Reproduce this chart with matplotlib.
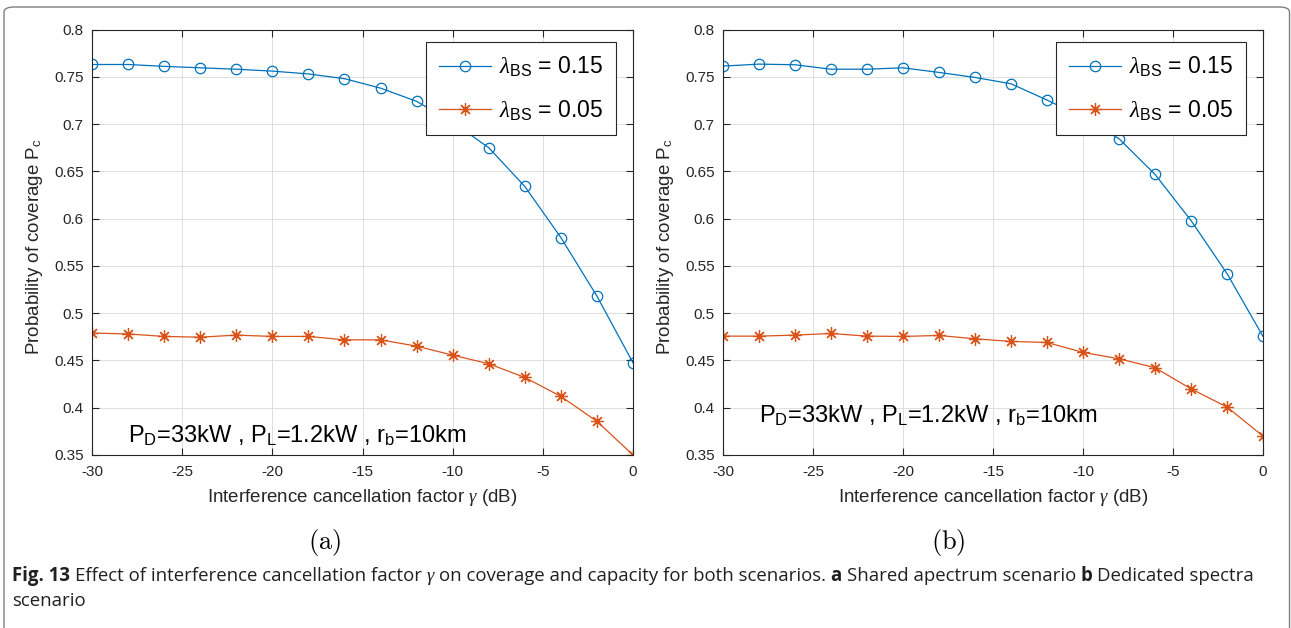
import matplotlib
matplotlib.use("Agg")
import matplotlib.pyplot as plt
from matplotlib.patches import FancyBboxPatch

# ---- data ----
gamma_db = [-30, -28, -26, -24, -22, -20, -18, -16, -14, -12, -10, -8, -6, -4, -2, 0]

# (a) shared spectrum
pc_a_015 = [0.763, 0.763, 0.761, 0.7595, 0.758, 0.756, 0.753, 0.748, 0.738, 0.724,
            0.702, 0.675, 0.634, 0.580, 0.518, 0.4475]
pc_a_005 = [0.479, 0.478, 0.4754, 0.4746, 0.4768, 0.4754, 0.4754, 0.4718, 0.4718, 0.4651,
            0.4556, 0.4465, 0.432, 0.412, 0.3856, 0.350]

# (b) dedicated spectra
pc_b_015 = [0.7613, 0.7634, 0.7627, 0.758, 0.758, 0.7595, 0.7546, 0.7493, 0.7426, 0.7254,
            0.707, 0.6845, 0.6468, 0.598, 0.5419, 0.4754]
pc_b_005 = [0.4757, 0.4757, 0.4768, 0.4785, 0.4757, 0.4754, 0.4764, 0.4729, 0.4701, 0.469,
            0.4585, 0.4518, 0.4423, 0.420, 0.4007, 0.370]

xtick_vals = [-30, -25, -20, -15, -10, -5, 0]
xtick_labels = ['-30', '-25', '-20', '-15', '-10', '-5', '0']
ytick_vals = [0.35, 0.4, 0.45, 0.5, 0.55, 0.6, 0.65, 0.7, 0.75, 0.8]
ytick_labels = ['0.35', '0.4', '0.45', '0.5', '0.55', '0.6', '0.65', '0.7', '0.75', '0.8']

series_labels = [r'$\lambda_{\mathrm{BS}}$ = 0.15', r'$\lambda_{\mathrm{BS}}$ = 0.05']
panel_labels = [r'$\mathrm{(a)}$', r'$\mathrm{(b)}$']
note_text = r'P$_{\mathrm{D}}$=33kW , P$_{\mathrm{L}}$=1.2kW , r$_{\mathrm{b}}$=10km'
note_y = [0.3635, 0.384]
xlabel = r'Interference cancellation factor $\gamma$ (dB)'
ylabel = r'Probability of coverage P$_{\mathrm{c}}$'

caption_line1 = [("Fig. 13", "bold", "normal"),
                 ("Effect of interference cancellation factor", "normal", "normal"),
                 ("\u03b3", "normal", "italic"),
                 ("on coverage and capacity for both scenarios.", "normal", "normal"),
                 ("a", "bold", "normal"),
                 ("Shared apectrum scenario", "normal", "normal"),
                 ("b", "bold", "normal"),
                 ("Dedicated spectra", "normal", "normal")]
caption_line2 = "scenario"

# ---- style ----
plt.rcParams['font.family'] = ['Liberation Sans', 'DejaVu Sans']
plt.rcParams['mathtext.fontset'] = 'custom'
plt.rcParams['mathtext.rm'] = 'Liberation Sans'
plt.rcParams['mathtext.it'] = 'Liberation Serif:italic'
plt.rcParams['mathtext.bf'] = 'Liberation Sans:bold'
plt.rcParams['axes.unicode_minus'] = False

BLUE = '#0072BD'
ORANGE = '#D95319'
DARK = '#262626'
W, H = 1291, 628

fig = plt.figure(figsize=(W / 100, H / 100), dpi=100)

# outer rounded frame (bottom edge runs off the picture)
frame = FancyBboxPatch((4 / W, -30 / H), 1285.5 / W, (H - 7 + 30) / H,
                       boxstyle="round,pad=0,rounding_size=0.008",
                       transform=fig.transFigure, fill=False,
                       edgecolor='#7f7f7f', linewidth=1.0, clip_on=False)
fig.add_artist(frame)

panels = [
    (92, 633, pc_a_015, pc_a_005, note_y[0], 325),
    (723, 1263, pc_b_015, pc_b_005, note_y[1], 948),
]

for i, (x0, x1, s015, s005, ny, lab_x) in enumerate(panels):
    ax = fig.add_axes([x0 / W, 1 - 455 / H, (x1 - x0) / W, (455 - 29.5) / H])
    ax.plot(gamma_db, s015, color=BLUE, lw=0.9, marker='o', ms=7.5,
            mfc='none', mec=BLUE, mew=0.9, label=series_labels[0])
    ax.plot(gamma_db, s005, color=ORANGE, lw=0.9, marker=(8, 2, 0), ms=9,
            mec=ORANGE, mew=0.9, label=series_labels[1])
    ax.set_xlim(-30, 0)
    ax.set_ylim(0.35, 0.8)
    ax.set_xticks(xtick_vals)
    ax.set_xticklabels(xtick_labels)
    ax.set_yticks(ytick_vals)
    ax.set_yticklabels(ytick_labels)
    ax.grid(True, color='#dfdfdf', lw=0.7)
    ax.set_axisbelow(True)
    for sp in ax.spines.values():
        sp.set_color(DARK)
        sp.set_linewidth(0.8)
    ax.tick_params(direction='in', length=5, width=0.8, color=DARK,
                   labelcolor=DARK, labelsize=11, top=True, right=True)
    ax.tick_params(axis='x', pad=7)
    ax.tick_params(axis='y', pad=6)
    ax.set_xlabel(xlabel, fontsize=13.5, color=DARK)
    ax.set_ylabel(ylabel, fontsize=13.5, color=DARK)
    ax.xaxis.set_label_coords(0.5, -0.075)
    ax.yaxis.set_label_coords(-0.087, 0.49)

    leg = ax.legend(loc='upper right', bbox_to_anchor=(1 - 17 / (x1 - x0), 1 - 12.5 / 425.5),
                    borderaxespad=0, fontsize=16.5, frameon=True, fancybox=False,
                    framealpha=1, edgecolor=DARK, handlelength=2.3,
                    handletextpad=0.35, labelspacing=0.85, borderpad=0.55)
    leg.get_frame().set_linewidth(0.8)

    ax.text(-28, ny, note_text, fontsize=17, color='black', va='baseline', ha='left')

    fig.text(lab_x / W, 1 - 543 / H, panel_labels[i], fontsize=19,
             ha='center', va='center', math_fontfamily='cm')

# caption, built piece by piece so the bold words sit on one baseline
renderer = fig.canvas.get_renderer()
x = 12
gap = 4.8
for text, weight, style in caption_line1:
    fam = ['Liberation Serif'] if style == 'italic' else ['Open Sans']
    t = fig.text(x / W, 1 - 581 / H, text, fontsize=13.4, fontweight=weight,
                 fontstyle=style, family=fam, va='baseline', ha='left', color='#231f20')
    bb = t.get_window_extent(renderer)
    x = bb.x1 + gap
fig.text(12 / W, 1 - 606 / H, caption_line2, fontsize=13.4, family=['Open Sans'],
         va='baseline', ha='left', color='#231f20')

fig.savefig('out.png', dpi=100)
